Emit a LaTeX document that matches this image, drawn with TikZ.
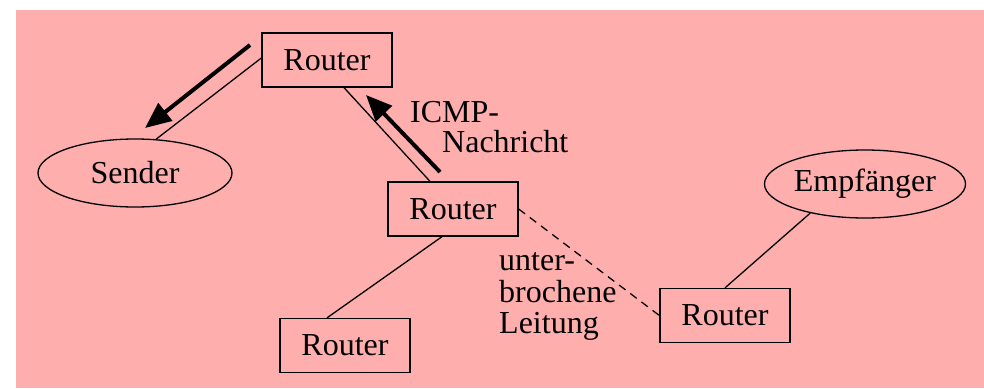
\documentclass[tikz,border=0pt]{standalone}
\usepackage{fontspec}
\setmainfont{Liberation Serif}
\usetikzlibrary{arrows.meta,shapes.geometric}
\definecolor{bgpink}{RGB}{255,174,174}
\begin{document}
\begin{tikzpicture}[x=1pt,y=-1pt,
  font=\fontsize{32}{32}\selectfont,
  routerbox/.style={draw,line width=1.3pt,minimum width=130pt,minimum height=54pt,inner sep=0pt},
  hostellipse/.style={draw,ellipse,line width=1.3pt,minimum width=194pt,minimum height=68pt,inner sep=0pt},
  link/.style={line width=1.3pt},
  brokenlink/.style={line width=1.3pt,dash pattern=on 8pt off 6pt},
  msgarrow/.style={line width=4pt,-{Triangle[length=26pt,width=22pt]}},
  label/.style={anchor=base west,inner sep=0pt}]
  \useasboundingbox (0,0) rectangle (984,388);
  \fill[bgpink] (16,10) rectangle (984,388);

  % hosts and routers
  \node[hostellipse] (sender) at (135,173) {Sender};
  \node[hostellipse] (empf) at (865,184) {Empfänger};
  \node[routerbox] (r1) at (327,60) {Router};
  \node[routerbox] (r2) at (453,209) {Router};
  \node[routerbox] (r3) at (345,345.5) {Router};
  \node[routerbox] (r4) at (725,315.5) {Router};

  % links
  \draw[link] ([yshift=2pt]r1.west) -- (sender.58);
  \draw[link] ([xshift=17pt]r1.south) -- ([xshift=-23pt]r2.north);
  \draw[link] ([xshift=-11pt]r2.south) -- ([xshift=-18pt]r3.north);
  \draw[link] (r4.north) -- (empf.208);
  \draw[brokenlink] (r2.east) -- (r4.west);

  % ICMP message path
  \coordinate (m1s) at (440,172);
  \coordinate (m1e) at (366,95);
  \coordinate (m2s) at (250,45);
  \coordinate (m2e) at (145,128);
  \draw[msgarrow] (m1s) -- (m1e);
  \draw[msgarrow] (m2s) -- (m2e);

  % labels
  \node[label] (icmp1) at (410,122) {ICMP-};
  \node[label] (icmp2) at (442,152) {Nachricht};
  \node[label] (brk1) at (499,270) {unter-};
  \node[label] (brk2) at (499,302) {brochene};
  \node[label] (brk3) at (499,333) {Leitung};
\end{tikzpicture}
\end{document}
